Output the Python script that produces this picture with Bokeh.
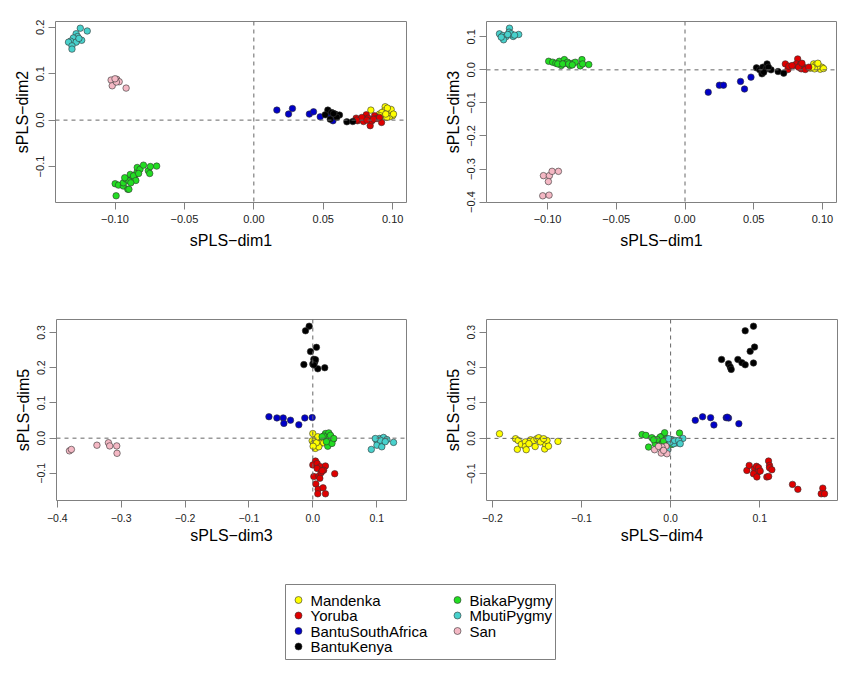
from bokeh.plotting import figure
from bokeh.models import Range1d, Span, FixedTicker, CustomJSTickFormatter
from bokeh.core.properties import value
from bokeh.layouts import column, row
from bokeh.embed import file_html
from bokeh.resources import INLINE

# ---------------- data ----------------
groups = ["Mandenka", "Yoruba", "BantuSouthAfrica", "BantuKenya", "BiakaPygmy", "MbutiPygmy", "San"]
colors = ["#FFFF00", "#E00000", "#0000C8", "#000000", "#22DD22", "#48D1CC", "#F4B8C4"]

# panel 1: sPLS-dim1 (x) vs sPLS-dim2 (y)
p1_Mandenka = [(0.0843,0.0216),(0.0905,0.013),(0.0934,0.0094),(0.0946,0.0288),(0.0941,0.020),(0.097,0.0144),(0.0989,0.023),(0.100,0.0094),(0.0977,0.0072),(0.0958,0.0058),(0.0922,0.0165),(0.0962,0.0259),(0.1006,0.013),(0.091,0.0094),(0.095,0.013)]
p1_Yoruba = [(0.0737,0.0043),(0.0747,-0.0014),(0.079,-0.003),(0.081,0.0115),(0.0823,0.0043),(0.0838,-0.012),(0.085,-0.0014),(0.087,0.0094),(0.0886,0.0036),(0.092,-0.005),(0.0905,0.0058),(0.0778,0.0058),(0.0814,0.0),(0.0862,0.002),(0.074,0.0)]
p1_BantuSouthAfrica = [(0.0166,0.0216),(0.025,0.013),(0.0278,0.025),(0.040,0.013),(0.043,0.018),(0.0478,0.007),(0.057,-0.0014),(0.0545,0.012)]
p1_BantuKenya = [(0.0533,0.0216),(0.056,0.0165),(0.0514,0.0115),(0.0586,0.013),(0.060,0.0094),(0.0617,0.011),(0.055,0.002),(0.067,-0.0036),(0.0713,-0.003),(0.0598,0.006),(0.0574,0.014)]
p1_BiakaPygmy = [(-0.0992,-0.163),(-0.0999,-0.137),(-0.0975,-0.140),(-0.094,-0.142),(-0.0908,-0.149),(-0.094,-0.135),(-0.092,-0.127),(-0.089,-0.117),(-0.087,-0.124),(-0.0855,-0.118),(-0.084,-0.111),(-0.084,-0.102),(-0.082,-0.106),(-0.0795,-0.097),(-0.076,-0.109),(-0.0745,-0.100),(-0.070,-0.099),(-0.090,-0.131),(-0.0867,-0.120),(-0.085,-0.130),(-0.0886,-0.135),(-0.093,-0.124),(-0.083,-0.115),(-0.075,-0.115),(-0.090,-0.149)]
p1_MbutiPygmy = [(-0.125,0.198),(-0.120,0.192),(-0.128,0.186),(-0.127,0.180),(-0.130,0.177),(-0.126,0.173),(-0.124,0.172),(-0.132,0.170),(-0.1335,0.168),(-0.128,0.168),(-0.131,0.160),(-0.131,0.153),(-0.126,0.176)]
p1_San = [(-0.1028,0.0863),(-0.0987,0.0878),(-0.097,0.0827),(-0.102,0.074),(-0.099,0.082),(-0.092,0.069),(-0.100,0.089)]

# panel 2: sPLS-dim1 (x) vs sPLS-dim3 (y)
p2_Mandenka = [(0.0912,0.005),(0.0936,0.018),(0.0953,0.016),(0.0972,0.012),(0.0996,0.008),(0.0984,0.002),(0.096,0.008),(0.0943,0.003),(0.1008,0.004),(0.0924,0.008),(0.0967,0.020)]
p2_Yoruba = [(0.073,0.018),(0.0749,0.001),(0.0755,0.011),(0.0798,0.013),(0.082,0.033),(0.081,0.018),(0.084,0.016),(0.0846,0.003),(0.0863,0.008),(0.0875,0.001),(0.0827,0.008),(0.0779,0.013),(0.0851,0.020),(0.090,0.008)]
p2_BantuSouthAfrica = [(0.0169,-0.0677),(0.025,-0.0465),(0.028,-0.0465),(0.0404,-0.035),(0.0433,-0.058),(0.048,-0.022),(0.056,-0.004)]
p2_BantuKenya = [(0.052,0.006),(0.0544,0.0),(0.056,-0.012),(0.0566,0.008),(0.0597,0.018),(0.059,0.003),(0.0626,0.0),(0.0677,-0.005),(0.0718,-0.010),(0.0573,-0.007),(0.0607,0.008)]
p2_BiakaPygmy = [(-0.0992,0.026),(-0.0963,0.0232),(-0.094,0.020),(-0.0914,0.026),(-0.090,0.013),(-0.0878,0.031),(-0.0866,0.020),(-0.0854,0.023),(-0.0837,0.013),(-0.0817,0.020),(-0.0798,0.023),(-0.0762,0.012),(-0.075,0.031),(-0.0745,0.018),(-0.070,0.016),(-0.0926,0.018),(-0.089,0.018),(-0.0846,0.018),(-0.082,0.015)]
p2_MbutiPygmy = [(-0.135,0.109),(-0.1325,0.104),(-0.1277,0.126),(-0.128,0.114),(-0.130,0.101),(-0.132,0.091),(-0.125,0.101),(-0.121,0.107),(-0.1265,0.109),(-0.1337,0.099),(-0.129,0.107),(-0.124,0.105)]
p2_San = [(-0.103,-0.320),(-0.0987,-0.320),(-0.0967,-0.307),(-0.0921,-0.307),(-0.0994,-0.338),(-0.1035,-0.381),(-0.0989,-0.379)]

# panel 3: sPLS-dim3 (x) vs sPLS-dim5 (y)
p3_Mandenka = [(0.0,0.013),(-0.001,-0.0075),(0.004,-0.004),(0.0094,-0.006),(0.0146,-0.006),(0.0068,-0.020),(0.012,-0.015),(0.004,-0.029),(0.0094,-0.0245),(0.0016,-0.015),(0.017,-0.013),(0.0057,-0.013),(0.0078,0.004),(0.0005,-0.023)]
p3_Yoruba = [(0.0042,-0.065),(0.0,-0.076),(0.0068,-0.072),(0.012,-0.081),(0.0198,-0.079),(0.017,-0.091),(0.0068,-0.086),(0.0016,-0.109),(0.0094,-0.108),(0.013,-0.098),(0.0343,-0.101),(0.0047,-0.130),(0.0083,-0.145),(0.0161,-0.141),(0.0078,-0.158),(0.0198,-0.158),(0.0146,-0.0925),(0.011,-0.114)]
p3_BantuSouthAfrica = [(-0.0687,0.061),(-0.0562,0.0575),(-0.0463,0.0575),(-0.0453,0.042),(-0.0349,0.051),(-0.0219,0.038),(-0.0125,0.0575),(-0.001,0.0585)]
p3_BantuKenya = [(-0.0057,0.318),(-0.0114,0.305),(0.0057,0.258),(-0.0036,0.246),(0.0016,0.224),(0.0031,0.216),(0.0,0.211),(-0.014,0.209),(0.0078,0.197),(0.0187,0.200),(0.0042,0.223),(0.0016,0.208)]
p3_BiakaPygmy = [(0.0198,0.013),(0.025,0.015),(0.0286,0.004),(0.0317,-0.004),(0.0224,0.002),(0.017,0.006),(0.026,-0.010),(0.0234,-0.023),(0.030,-0.015),(0.0146,0.004),(0.0213,-0.010),(0.0276,0.008),(0.0328,-0.001)]
p3_MbutiPygmy = [(0.0916,-0.032),(0.1004,-0.0085),(0.1046,-0.001),(0.1108,0.002),(0.116,-0.004),(0.107,-0.017),(0.1004,-0.020),(0.108,-0.0245),(0.1264,-0.012),(0.1056,-0.0057),(0.1134,-0.010),(0.0978,-0.001)]
p3_San = [(-0.381,-0.036),(-0.378,-0.032),(-0.338,-0.020),(-0.320,-0.013),(-0.318,-0.022),(-0.307,-0.022),(-0.3065,-0.043)]

# panel 4: sPLS-dim4 (x) vs sPLS-dim5 (y)
p4_Mandenka = [(-0.192,0.013),(-0.174,-0.001),(-0.171,-0.006),(-0.172,-0.031),(-0.1675,-0.017),(-0.163,-0.010),(-0.163,-0.023),(-0.162,-0.032),(-0.157,-0.004),(-0.1536,-0.006),(-0.152,-0.023),(-0.150,-0.001),(-0.148,0.002),(-0.144,-0.004),(-0.1413,-0.030),(-0.1406,-0.015),(-0.1387,-0.006),(-0.137,-0.022),(-0.1264,-0.0085),(-0.146,-0.010),(-0.159,-0.015),(-0.1425,-0.001)]
p4_Yoruba = [(0.0856,-0.0906),(0.0882,-0.0764),(0.0942,-0.0858),(0.0964,-0.079),(0.0987,-0.083),(0.098,-0.095),(0.093,-0.100),(0.0968,-0.109),(0.1006,-0.0925),(0.108,-0.109),(0.110,-0.1075),(0.1099,-0.064),(0.111,-0.0764),(0.111,-0.083),(0.1136,-0.0887),(0.1368,-0.130),(0.1428,-0.144),(0.1708,-0.1406),(0.169,-0.1566),(0.1727,-0.1566)]
p4_BantuSouthAfrica = [(0.0277,0.051),(0.0359,0.061),(0.0449,0.0585),(0.0486,0.038),(0.0624,0.0585),(0.065,0.0575),(0.0766,0.0415),(0.0636,0.060)]
p4_BantuKenya = [(0.0572,0.223),(0.065,0.211),(0.0669,0.202),(0.068,0.195),(0.0755,0.223),(0.080,0.214),(0.0837,0.208),(0.0837,0.304),(0.093,0.317),(0.0893,0.246),(0.0942,0.258),(0.093,0.213)]
p4_BiakaPygmy = [(-0.032,0.011),(-0.0277,0.0085),(-0.021,0.002),(-0.0247,-0.0245),(-0.0172,-0.015),(-0.0135,-0.0057),(-0.0097,0.0057),(-0.0067,0.016),(-0.0041,-0.001),(-0.009,-0.015),(-0.0116,0.004),(-0.0153,-0.003),(-0.0022,-0.010),(0.0015,-0.017),(0.010,0.015),(0.0007,-0.004),(-0.0079,-0.0075),(-0.019,-0.004)]
p4_MbutiPygmy = [(-0.003,-0.032),(0.0015,-0.004),(0.0071,-0.013),(0.0138,0.0),(0.0034,-0.015),(-0.0004,-0.010),(0.0045,-0.0057),(0.009,-0.0057),(-0.0022,-0.001),(0.0108,-0.015)]
p4_San = [(-0.018,-0.032),(-0.0105,-0.0415),(-0.0052,-0.022),(-0.0041,-0.0434),(-0.0097,-0.0245),(-0.0135,-0.0226),(-0.0079,-0.034)]

# tick positions
p1_xticks = [-0.10, -0.05, 0.00, 0.05, 0.10]
p1_yticks = [-0.1, 0.0, 0.1, 0.2]
p2_xticks = [-0.10, -0.05, 0.00, 0.05, 0.10]
p2_yticks = [-0.4, -0.3, -0.2, -0.1, 0.0, 0.1]
p3_xticks = [-0.4, -0.3, -0.2, -0.1, 0.0, 0.1]
p3_yticks = [-0.1, 0.0, 0.1, 0.2, 0.3]
p4_xticks = [-0.2, -0.1, 0.0, 0.1]
p4_yticks = [-0.1, 0.0, 0.1, 0.2, 0.3]

# ---------------- drawing ----------------
FONT = "Liberation Sans"
FRAME = "#808080"


def padded(vals):
    lo, hi = min(vals), max(vals)
    d = (hi - lo) * 0.04
    return lo - d, hi + d


def fmt(digits):
    return CustomJSTickFormatter(code="return (tick < -1e-9 ? '\u2212' : '') + Math.abs(tick).toFixed(%d);" % digits)


def panel(sets, xlab, ylab, xt, yt, xd, yd, fw, bl, br, bt, bb, tick_fs, xstand, xlstand):
    xs = [pt[0] for s in sets for pt in s]
    ys = [pt[1] for s in sets for pt in s]
    p = figure(frame_width=fw, frame_height=181,
               x_range=Range1d(*padded(xs)), y_range=Range1d(*padded(ys)),
               min_border_left=bl, min_border_right=br, min_border_top=bt, min_border_bottom=bb,
               output_backend="svg", toolbar_location=None)
    p.grid.visible = False
    p.outline_line_color = FRAME
    p.outline_line_width = 1
    p.background_fill_color = "white"
    p.border_fill_color = "white"
    for ax, lab, ticks, d in ((p.xaxis, xlab, xt, xd), (p.yaxis, ylab, yt, yd)):
        ax.ticker = FixedTicker(ticks=ticks)
        ax.formatter = fmt(d)
        ax.axis_label = lab
        ax.axis_label_text_font = FONT
        ax.axis_label_text_font_style = "normal"
        ax.axis_label_text_font_size = "16px"
        ax.axis_label_text_color = "#000000"
        ax.major_label_text_font = FONT
        ax.major_label_text_font_size = tick_fs
        ax.major_label_text_color = "#222222"
        ax.axis_line_color = None
        ax.major_tick_line_color = FRAME
        ax.major_tick_out = 7
        ax.major_tick_in = 0
        ax.minor_tick_line_color = None
    p.xaxis.major_label_standoff = xstand
    p.xaxis.axis_label_standoff = xlstand
    p.yaxis.major_label_orientation = "vertical"
    p.yaxis.major_label_standoff = 4
    p.yaxis.axis_label_standoff = 3
    p.add_layout(Span(location=0, dimension="width", line_color="#666666", line_dash="4 4", line_width=1))
    p.add_layout(Span(location=0, dimension="height", line_color="#666666", line_dash="4 4", line_width=1))
    for s, c in zip(sets, colors):
        p.scatter(x=[pt[0] for pt in s], y=[pt[1] for pt in s], size=6.5,
                  fill_color=c, line_color="#333333", line_width=0.6)
    return p


p1 = panel([p1_Mandenka, p1_Yoruba, p1_BantuSouthAfrica, p1_BantuKenya, p1_BiakaPygmy, p1_MbutiPygmy, p1_San],
           "sPLS\u2212dim1", "sPLS\u2212dim2", p1_xticks, p1_yticks, 2, 1,
           351, 55, 18, 21, 98, "11px", 5, 6)
p2 = panel([p2_Mandenka, p2_Yoruba, p2_BantuSouthAfrica, p2_BantuKenya, p2_BiakaPygmy, p2_MbutiPygmy, p2_San],
           "sPLS\u2212dim1", "sPLS\u2212dim3", p2_xticks, p2_yticks, 2, 1,
           350, 62, 4, 21, 98, "11px", 5, 6)
p3 = panel([p3_Mandenka, p3_Yoruba, p3_BantuSouthAfrica, p3_BantuKenya, p3_BiakaPygmy, p3_MbutiPygmy, p3_San],
           "sPLS\u2212dim3", "sPLS\u2212dim5", p3_xticks, p3_yticks, 1, 1,
           350, 56, 18, 19, 70, "10.5px", 6, 2)
p4 = panel([p4_Mandenka, p4_Yoruba, p4_BantuSouthAfrica, p4_BantuKenya, p4_BiakaPygmy, p4_MbutiPygmy, p4_San],
           "sPLS\u2212dim4", "sPLS\u2212dim5", p4_xticks, p4_yticks, 1, 1,
           351, 62, 3, 19, 70, "10.5px", 6, 2)

# legend panel (drawn in pixel units of its own canvas: 2 columns x 4 rows, column-wise fill)
LEG_W, LEG_H = 840, 92
leg = figure(width=LEG_W, height=LEG_H, min_border=0, x_range=Range1d(0, LEG_W), y_range=Range1d(LEG_H, 0),
             output_backend="svg", toolbar_location=None)
leg.axis.visible = False
leg.grid.visible = False
leg.outline_line_color = None
col_sym = [298, 457]
row_y0, row_dy = 29.5, 15.5
sym_x = [col_sym[i // 4] for i in range(len(groups))]
sym_y = [row_y0 + row_dy * (i % 4) for i in range(len(groups))]
txt_x = [sx + 12 for sx in sym_x]
leg.quad(left=285, right=555, top=14, bottom=89, fill_color=None, line_color=FRAME, line_width=1)
leg.scatter(x=sym_x, y=sym_y, size=7, fill_color=colors, line_color="#333333", line_width=0.6)
leg.text(x=txt_x, y=sym_y, text=groups, text_font=value(FONT), text_font_size="15px",
         text_baseline="middle", text_align="left", text_color="#000000")

layout = column(row(p1, p2), row(p3, p4), leg)
open("out.html", "w").write(file_html(layout, INLINE))
